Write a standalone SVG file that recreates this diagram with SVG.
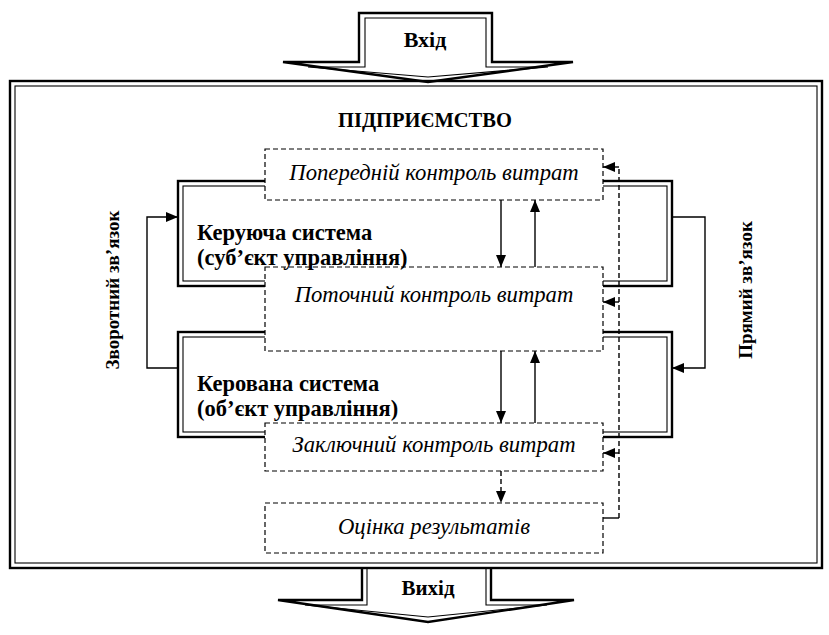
<svg xmlns="http://www.w3.org/2000/svg" width="829" height="635" viewBox="0 0 829 635">
<defs>
<marker id="ah" markerUnits="userSpaceOnUse" markerWidth="12" markerHeight="10" viewBox="0 0 12 10" refX="12" refY="5" orient="auto">
<path d="M0,0 L12,5 L0,10 Z" fill="#000"/>
</marker>
</defs>
<style>
.thick{fill:none;stroke:#000;stroke-width:2.4}
.thin{fill:none;stroke:#000;stroke-width:1.1}
.dash{fill:#fff;stroke:#000;stroke-width:1.2;stroke-dasharray:5 3}
.conn{fill:none;stroke:#000;stroke-width:1.4}
.dconn{fill:none;stroke:#000;stroke-width:1.4;stroke-dasharray:5 3}
text{font-family:'Liberation Serif','DejaVu Serif',serif}
.b{font-weight:bold;fill:#000}
.i{font-style:italic;fill:#000;font-size:22.7px;text-anchor:middle}
</style>
<rect width="829" height="635" fill="#fff"/>

<g id="frame">
<rect class="thick" x="10" y="81" width="812" height="487"/>
<rect class="thin" x="15" y="86" width="802" height="477"/>
<text class="b" x="425" y="127" font-size="20.5" text-anchor="middle">ПІДПРИЄМСТВО</text>
</g>

<g id="input">
<path class="thick" d="M359,62 V13 H492 V62 H573 L428,82 L283,62 Z" fill="#fff"/>
<path class="thin" d="M365,67 V18 H486 V67 H548 L428,77 L308,67 Z"/>
<text class="b" x="425" y="47" font-size="22" text-anchor="middle">Вхід</text>
</g>

<g id="output">
<path class="thick" d="M362,568 V600 H278 L428,622 L574,600 H491 V568"/>
<path class="thin" d="M367,568 V605 H305 L428,617 L547,605 H486 V568"/>
<text class="b" x="428" y="595" font-size="21" text-anchor="middle">Вихід</text>
</g>

<g id="managing">
<rect class="thick" x="178" y="181" width="494" height="105"/>
<rect class="thin" x="183" y="186" width="484" height="95"/>
</g>
<g id="managed">
<rect class="thick" x="178" y="332" width="494" height="105"/>
<rect class="thin" x="183" y="337" width="484" height="95"/>
</g>

<g id="control1">
<rect class="dash" x="265" y="149" width="338" height="51"/>
<text class="i" x="434" y="180">Попередній контроль витрат</text>
</g>
<g id="control2">
<rect class="dash" x="265" y="267" width="338" height="84"/>
<text class="i" x="434" y="302">Поточний контроль витрат</text>
</g>
<g id="control3">
<rect class="dash" x="265" y="423" width="338" height="48"/>
<text class="i" x="434" y="452">Заключний контроль витрат</text>
</g>
<g id="results">
<rect class="dash" x="265" y="503" width="338" height="50"/>
<text class="i" x="434" y="534">Оцінка результатів</text>
</g>

<g id="labels">
<text class="b" x="197" y="240" font-size="22.5">Керуюча система</text>
<text class="b" x="197" y="265" font-size="22.5">(суб’єкт управління)</text>
<text class="b" x="197" y="391" font-size="22.5">Керована система</text>
<text class="b" x="197" y="416" font-size="22.5">(об’єкт управління)</text>
<text class="b" font-size="19" text-anchor="middle" transform="translate(119,290) rotate(-90)">Зворотний зв’язок</text>
<text class="b" font-size="19" text-anchor="middle" transform="translate(752,290) rotate(-90)">Прямий зв’язок</text>
</g>

<g id="connectors">
<line class="conn" x1="501" y1="200" x2="501" y2="267" marker-end="url(#ah)"/>
<line class="conn" x1="535" y1="267" x2="535" y2="200" marker-end="url(#ah)"/>
<line class="conn" x1="501" y1="351" x2="501" y2="423" marker-end="url(#ah)"/>
<line class="conn" x1="535" y1="423" x2="535" y2="351" marker-end="url(#ah)"/>
<line class="dconn" x1="501" y1="471" x2="501" y2="503" marker-end="url(#ah)"/>
<path class="conn" d="M603,518 H619"/>
<line class="dconn" x1="619" y1="518" x2="619" y2="167"/>
<line class="conn" x1="619" y1="167" x2="603" y2="167" marker-end="url(#ah)"/>
<line class="conn" x1="619" y1="302" x2="603" y2="302" marker-end="url(#ah)"/>
<line class="conn" x1="619" y1="453" x2="603" y2="453" marker-end="url(#ah)"/>
<path class="conn" d="M178,368 H147 V217 H178" marker-end="url(#ah)"/>
<path class="conn" d="M672,217 H705 V368 H672" marker-end="url(#ah)"/>
</g>
</svg>
